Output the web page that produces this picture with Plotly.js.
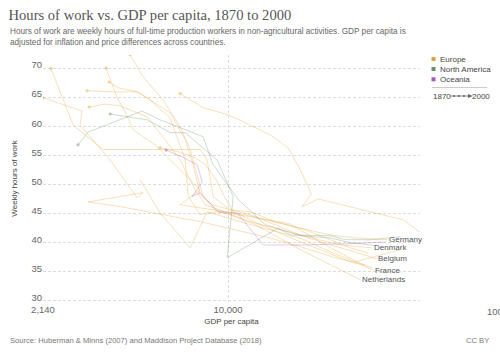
<!DOCTYPE html>
<html><head><meta charset="utf-8">
<script src="https://cdn.plot.ly/plotly-3.0.1.min.js"></script>
<style>html,body{margin:0;padding:0;background:#fff;overflow:hidden}#chart{width:500px;height:353px}</style>
</head><body><div id="chart"></div>
<script>
// ---------- data ----------
const years = [1870,1880,1890,1900,1913,1929,1938,1950,1960,1973,1980,1990,2000];
const yearsLate = [1913,1929,1938,1950,1960,1973,1980,1990,2000];

const spainGdp   = [2140,2963,2914,3743,4688,4928,3115,4068,7930,14220,18270,24460,31420];
const spainHours = [64.9,62.6,60.2,54.2,47.7,48.6,47.0,46.2,43.6,40.8,39.3,37.4,36.2];

const italyGdp   = [2288,2749,3530,5225,7930,8406,8835,10180,13080,17510,22490,27720,33300];
const italyHours = [69.9,60.2,56.0,56.0,56.0,54.2,47.9,45.6,43.1,40.5,38.4,36.7,35.7];

const belgiumGdp   = [4422,4928,5824,6711,7295,7798,8131,8985,12040,18270,23460,28900,34430];
const belgiumHours = [72.3,68.5,64.5,59.9,56.0,51.3,47.9,45.6,43.6,41.3,39.6,38.4,37.2];

const germanyGdp   = [3621,3968,4241,4534,5449,6998,7930,6711,11540,18270,23460,28900,37750];
const germanyHours = [70.0,64.9,62.5,59.4,56.8,51.6,49.1,46.5,44.8,42.5,41.3,40.8,40.5];

const denmarkGdp   = [3712,4001,4688,5010,6174,6998,7480,7930,8762,12040,18270,25500,33300];
const denmarkHours = [67.6,66.6,65.9,65.1,62.3,57.7,53.4,48.2,46.5,44.8,41.3,39.6,39.1];

const franceGdp   = [3090,3903,4727,5225,6174,6998,7175,7930,8985,11540,16800,22490,33590];
const franceHours = [66.1,65.9,65.9,64.5,61.4,54.2,48.0,44.8,45.3,44.6,43.2,39.6,35.2];

const netherlandsGdp   = [3141,3590,4068,5095,5922,6711,7604,8267,9370,12550,18270,24460,30130];
const netherlandsHours = [63.3,63.8,63.5,61.6,57.7,54.2,49.1,46.5,45.6,43.1,38.8,35.7,33.6];

const switzerlandGdp   = [6711,8131,9934,11350,14220,16520,18270,20010,18570,21230,43130,49700,58730];
const switzerlandHours = [65.6,63.2,62.0,60.8,58.5,56.3,52.5,48.4,46.2,47.5,43.9,41.7,39.6];

const ukGdp   = [5679,6600,7604,8267,8985,9768,10360,12040,14830,19040,23460,27720,32210];
const ukHours = [56.3,55.6,54.6,53.4,51.1,47.7,45.6,45.3,43.6,42.2,40.5,39.1,38.2];

const swedenGdp   = [4807,5679,7295,8406,12040,18270,23460,28900,42070];
const swedenHours = [50.8,45.1,39.1,45.3,43.1,40.8,38.4,36.7,38.8];

const usaGdp   = [3743,5095,6174,6998,9137,10440,9934,15200,16800,23460,26580,32750,42070];
const usaHours = [62.1,61.1,58.9,58.9,54.2,47.9,37.4,42.5,41.3,41.2,40.5,40.5,41.0];

const canadaGdp   = [2866,3115,3903,4887,5679,8131,8835,10890,13640,18270,23460,27720,34150];
const canadaHours = [56.8,59.0,60.8,62.6,61.1,58.2,53.4,47.4,43.1,41.2,40.8,40.0,39.5];

const australiaGdp   = [5970,6824,7735,8065,7420,7930,9215,10800,13410,16800,19040,26580,37120];
const australiaHours = [55.9,54.7,53.4,50.4,47.9,48.6,45.3,45.1,39.6,39.6,39.6,39.8,40.1];

const regions = ['Europe','North America','Oceania'];
const labelled = ['Germany','Denmark','Belgium','France','Netherlands'];
const yTicks = [30,35,40,45,50,55,60,65,70];
const xTicks = [2140,10000,100000];
const xTickText = ['2,140','10,000','100,000'];

// ---------- build ----------
const series = [
  {name:'Spain', region:'Europe', x:spainGdp, y:spainHours, t:years},
  {name:'Italy', region:'Europe', x:italyGdp, y:italyHours, t:years},
  {name:'Belgium', region:'Europe', x:belgiumGdp, y:belgiumHours, t:years},
  {name:'Germany', region:'Europe', x:germanyGdp, y:germanyHours, t:years},
  {name:'Denmark', region:'Europe', x:denmarkGdp, y:denmarkHours, t:years},
  {name:'France', region:'Europe', x:franceGdp, y:franceHours, t:years},
  {name:'Netherlands', region:'Europe', x:netherlandsGdp, y:netherlandsHours, t:years},
  {name:'Switzerland', region:'Europe', x:switzerlandGdp, y:switzerlandHours, t:years},
  {name:'United Kingdom', region:'Europe', x:ukGdp, y:ukHours, t:years},
  {name:'Sweden', region:'Europe', x:swedenGdp, y:swedenHours, t:yearsLate, nodot:true},
  {name:'United States', region:'North America', x:usaGdp, y:usaHours, t:years},
  {name:'Canada', region:'North America', x:canadaGdp, y:canadaHours, t:years},
  {name:'Australia', region:'Oceania', x:australiaGdp, y:australiaHours, t:years}
];

const solid = {'Europe':'#e2a23a','North America':'#6b8f6b','Oceania':'#a35bb8'};
const faint = {'Europe':'rgba(232,160,50,0.33)','North America':'rgba(107,143,107,0.32)','Oceania':'rgba(163,91,184,0.33)'};
const dotc  = {'Europe':'rgba(226,162,58,0.55)','North America':'rgba(107,143,107,0.55)','Oceania':'rgba(163,91,184,0.55)'};

const traces = series.map(s => ({
  type:'scatter', mode:'lines+markers', name:s.name,
  x:s.x, y:s.y, text:s.t,
  line:{color:faint[s.region], width:1},
  marker:{color:dotc[s.region], size:s.x.map((v,i)=> (i===0 && !s.nodot) ? 2.6 : 0)},
  hovertemplate:'%{fullData.name} %{text}<br>%{x:,.0f}<br>%{y} h<extra></extra>',
  showlegend:false
}));

// plot-area pixel bounds, used only to place decorative layout items
const L=43, R=420, T=55, B=302;
const px = x => (x-L)/(R-L);
const py = y => (B-y)/(B-T);
const xr0 = Math.log10(2140), xr1 = Math.log10(2140) + (R-L)/276.3;

const annotations = [];
// subtitle
annotations.push({xref:'paper', yref:'paper', x:px(8), y:py(25), xanchor:'left', yanchor:'top', align:'left', showarrow:false,
  text:'Hours of work are weekly hours of full-time production workers in non-agricultural activities. GDP per capita is<br>adjusted for inflation and price differences across countries.',
  font:{family:'Liberation Sans, Arial, sans-serif', size:8.2, color:'#666'}});
// footer
annotations.push({xref:'paper', yref:'paper', x:px(8), y:py(340), xanchor:'left', yanchor:'middle', showarrow:false,
  text:'Source: Huberman & Minns (2007) and Maddison Project Database (2018)',
  font:{family:'Liberation Sans, Arial, sans-serif', size:7.6, color:'#777'}});
annotations.push({xref:'paper', yref:'paper', x:px(491), y:py(340), xanchor:'right', yanchor:'middle', showarrow:false,
  text:'CC BY', font:{family:'Liberation Sans, Arial, sans-serif', size:7.6, color:'#777'}});
// far tick label (cut by the right edge, as in the reference)
annotations.push({xref:'paper', yref:'paper', x:(Math.log10(xTicks[2])-xr0)/(xr1-xr0), y:py(311), xanchor:'center', yanchor:'middle', showarrow:false,
  text:xTickText[2], font:{family:'Liberation Sans, Arial, sans-serif', size:9.5, color:'#666'}});
// end labels
series.filter(s => labelled.includes(s.name)).forEach(s => {
  annotations.push({xref:'x', yref:'y', x:Math.log10(s.x[s.x.length-1]), y:s.y[s.y.length-1],
    xanchor:'left', yanchor:'middle', xshift:0, showarrow:false, text:s.name,
    font:{family:'Liberation Sans, Arial, sans-serif', size:8, color:'#555'}});
});
// legend
const shapes = [];
const legY = [59, 69, 79.3];
regions.forEach((r,i) => {
  shapes.push({type:'rect', xref:'paper', yref:'paper', x0:px(431.5), x1:px(435.5), y0:py(legY[i]+2), y1:py(legY[i]-2),
    fillcolor:solid[r], line:{width:0}});
  annotations.push({xref:'paper', yref:'paper', x:px(438), y:py(legY[i]), xanchor:'left', yanchor:'middle', showarrow:false,
    text:r, font:{family:'Liberation Sans, Arial, sans-serif', size:8, color:'#444'}});
});
shapes.push({type:'line', xref:'paper', yref:'paper', x0:px(432), x1:px(487), y0:py(87.5), y1:py(87.5), line:{color:'#ccc', width:1}});
annotations.push({xref:'paper', yref:'paper', x:px(431), y:py(96), xanchor:'left', yanchor:'middle', showarrow:false,
  text:String(years[0]), font:{family:'Liberation Sans, Arial, sans-serif', size:8, color:'#444'}});
annotations.push({xref:'paper', yref:'paper', x:px(492), y:py(96), xanchor:'right', yanchor:'middle', showarrow:false,
  text:String(years[years.length-1]), font:{family:'Liberation Sans, Arial, sans-serif', size:8, color:'#444'}});
shapes.push({type:'line', xref:'paper', yref:'paper', x0:px(450), x1:px(470), y0:py(96), y1:py(96), line:{color:'#666', width:0.8}});
[454,459,464].forEach(p => shapes.push({type:'circle', xref:'paper', yref:'paper', x0:px(p-1), x1:px(p+1), y0:py(97), y1:py(95), fillcolor:'#666', line:{width:0}}));
shapes.push({type:'path', xref:'paper', yref:'paper', path:`M ${px(468)} ${py(94)} L ${px(473)} ${py(96)} L ${px(468)} ${py(98)} Z`, fillcolor:'#666', line:{width:0}});

const layout = {
  width:500, height:353,
  margin:{l:L, r:500-R, t:T, b:353-B, pad:0},
  paper_bgcolor:'#fff', plot_bgcolor:'#fff',
  font:{family:'Liberation Sans, Arial, sans-serif', color:'#666'},
  title:{text:'Hours of work vs. GDP per capita, 1870 to 2000', xref:'container', yref:'container', x:0.017, xanchor:'left', y:1-15/353, yanchor:'middle',
    font:{family:'Liberation Serif, Times New Roman, serif', size:14.6, color:'#555'}},
  xaxis:{type:'log', range:[xr0, xr1], tickvals:xTicks, ticktext:xTickText, showgrid:true, gridcolor:'#ddd', griddash:'3px,2px',
    zeroline:false, showline:false, ticks:'', tickfont:{size:9.5, color:'#666'},
    title:{text:'GDP per capita', font:{size:8, color:'#444'}, standoff:4}},
  yaxis:{range:[29.8, 29.8+(B-T)/5.82], tickvals:yTicks, ticksuffix:' h', showgrid:true, gridcolor:'#ddd', griddash:'3px,2px',
    zeroline:false, showline:false, ticks:'', ticklabelshift:-3, tickfont:{size:9.5, color:'#666'},
    title:{text:'Weekly hours of work', font:{size:8, color:'#444'}, standoff:12}},
  annotations:annotations, shapes:shapes, showlegend:false, hovermode:'closest'
};
Plotly.newPlot('chart', traces, layout, {displayModeBar:false});
</script></body></html>
